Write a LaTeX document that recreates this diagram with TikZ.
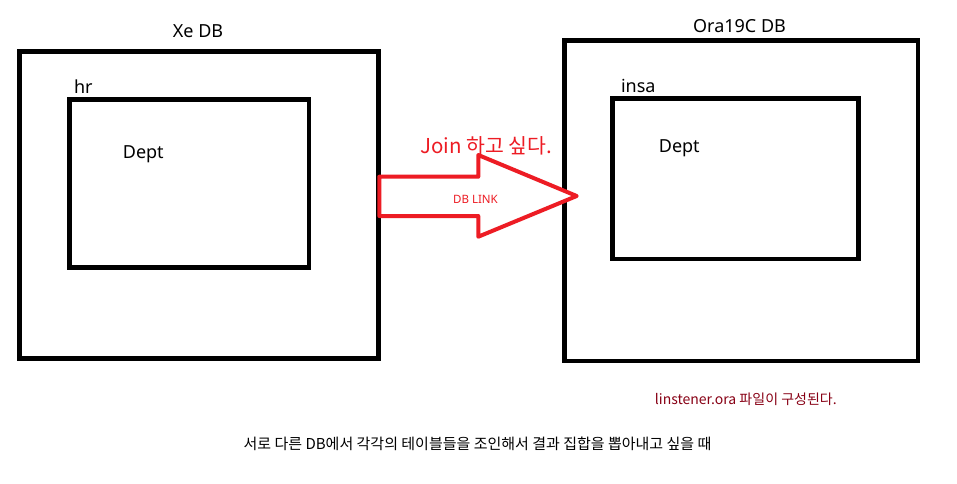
\documentclass[tikz,border=0pt]{standalone}
\usepackage{fontspec}
\setmainfont{Noto Sans}
\newfontfamily\kr{Noto Sans CJK KR}
\definecolor{pred}{RGB}{237,28,36}
\definecolor{pdred}{RGB}{136,0,21}
\begin{document}
\begin{tikzpicture}[x=1pt,y=-1pt,
  boxline/.style={draw=black,line width=4.5pt,line join=miter},
  arrowline/.style={draw=pred,line width=4pt,line join=round,fill=white},
  lbl/.style={anchor=base,inner sep=0pt,font=\fontsize{18}{20}\selectfont},
  krlbl/.style={anchor=base,inner sep=0pt,font=\kr\fontsize{14}{16}\selectfont}]
\useasboundingbox[fill=white] (0,0) rectangle (957,483);
% boxes
\draw[boxline] (19.3,51.3) rectangle (378.5,358.3);
\draw[boxline] (69.5,99.7) rectangle (309,267.5);
\draw[boxline] (564.5,40.5) rectangle (918,361);
\draw[boxline] (612.5,98.4) rectangle (858.5,259);
% block arrow
\coordinate (tip) at (576.7,196);
\draw[arrowline] (379.3,176.7) -- (478.3,176.7) -- (478.3,155) -- (tip)
  -- (478.3,236.7) -- (478.3,216) -- (379.3,216) -- cycle;
% labels
\node[lbl] (xedb) at (198,37) {Xe DB};
\node[lbl] (hr) at (83.3,93.3) {hr};
\node[lbl] (dept1) at (143.3,158.3) {Dept};
\node[lbl] (oradb) at (739.5,32.7) {Ora19C DB};
\node[lbl] (insa) at (638.3,92.7) {insa};
\node[lbl] (dept2) at (679.3,152.7) {Dept};
\node[krlbl,text=pred,font=\kr\fontsize{20.5}{22}\selectfont] (join) at (486,153.3) {Join 하고 싶다.};
\node[lbl,text=pred,font=\fontsize{11.5}{13}\selectfont] (dblink) at (475.5,203.3) {DB LINK};
\node[krlbl,text=pdred] (lsn) at (745.8,404) {linstener.ora 파일이 구성된다.};
\node[krlbl,text=black,font=\kr\fontsize{15}{17}\selectfont] (bottom) at (477.5,449) {서로 다른 DB에서 각각의 테이블들을 조인해서 결과 집합을 뽑아내고 싶을 때};
\end{tikzpicture}
\end{document}
